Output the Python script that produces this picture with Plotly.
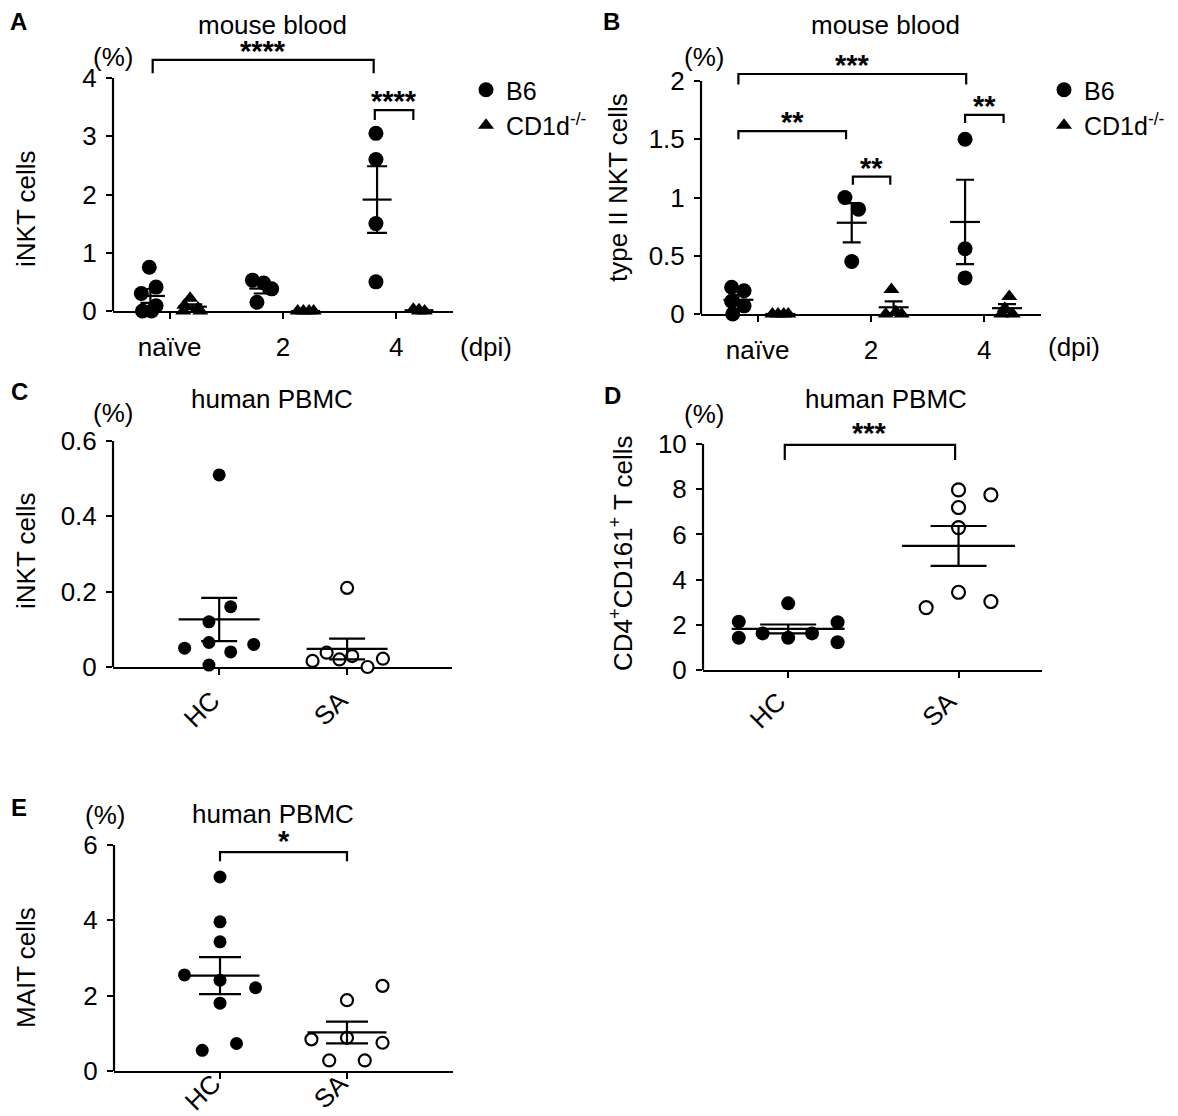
import numpy as np
import plotly.graph_objects as go

W, H = 1178, 1116
FONT = "Liberation Sans, Arial, Helvetica, sans-serif"
FS = 26

dpi_groups = [1, 2, 3]
dpi_labels = ["naïve", "2", "4"]
pbmc_groups = [0, 1]
pbmc_labels = ["HC", "SA"]

# A: iNKT cells (%) in mouse blood; *_dx = horizontal scatter of the dots
a_b6_naive = [0.75, 0.41, 0.30, 0.09, 0.0, 0.0]
a_b6_d2 = [0.53, 0.48, 0.38, 0.15]
a_b6_d4 = [3.05, 2.60, 1.50, 0.50]
a_ko_naive = [0.22, 0.10, 0.05, 0.0, 0.0]
a_ko_d2 = [0.0, 0.0, 0.0, 0.0]
a_ko_d4 = [0.03, 0.02, 0.0, 0.0]
a_b6_dx = [[-0.18, -0.12, -0.25, -0.12, -0.24, -0.16],
           [-0.27, -0.17, -0.10, -0.23],
           [-0.18, -0.18, -0.18, -0.18]]
a_ko_dx = [[0.18, 0.13, 0.25, 0.12, 0.27],
           [0.13, 0.18, 0.23, 0.27],
           [0.15, 0.20, 0.25, 0.20]]

# B: type II NKT cells (%) in mouse blood
b_b6_naive = [0.23, 0.20, 0.11, 0.07, 0.0]
b_b6_d2 = [1.00, 0.90, 0.45]
b_b6_d4 = [1.50, 0.56, 0.31]
b_ko_naive = [0.0, 0.0, 0.0, 0.0]
b_ko_d2 = [0.21, 0.02, 0.0, 0.0]
b_ko_d4 = [0.15, 0.05, 0.0, 0.0]
b_b6_dx = [[-0.23, -0.12, -0.23, -0.12, -0.22],
           [-0.23, -0.11, -0.17],
           [-0.17, -0.17, -0.17]]
b_ko_dx = [[0.13, 0.18, 0.23, 0.27],
           [0.18, 0.22, 0.13, 0.27],
           [0.22, 0.18, 0.15, 0.25]]

# C: iNKT cells (%) in human PBMC
c_hc = [0.51, 0.16, 0.12, 0.065, 0.06, 0.05, 0.04, 0.005]
c_sa = [0.21, 0.016, 0.038, 0.02, 0.029, 0.0, 0.022]
c_hc_dx = [0, 0.09, -0.08, -0.08, 0.27, -0.27, 0.09, -0.08]
c_sa_dx = [0, -0.27, -0.16, -0.06, 0.04, 0.16, 0.28]

# D: CD4+CD161+ T cells (%)
d_hc = [2.14, 1.43, 1.62, 2.95, 1.43, 1.62, 2.11, 1.23]
d_sa = [7.97, 7.75, 7.19, 6.30, 3.44, 3.03, 2.76]
d_hc_dx = [-0.29, -0.29, -0.15, 0, 0, 0.14, 0.29, 0.29]
d_sa_dx = [0, 0.19, 0, 0, 0, 0.19, -0.19]

# E: MAIT cells (%)
e_hc = [5.15, 3.96, 3.43, 2.55, 2.41, 2.21, 1.80, 0.73, 0.55]
e_sa = [2.26, 1.88, 0.88, 0.84, 0.75, 0.28, 0.28]
e_hc_dx = [0, 0, 0, -0.28, 0, 0.28, 0, 0.13, -0.14]
e_sa_dx = [0.28, 0, 0, -0.28, 0.28, -0.14, 0.14]

# significance brackets: (x left, x right, y, y of the drop ends, label)
a_sig = [(0.85, 2.80, 4.31, 4.08, "****"), (2.81, 3.15, 3.45, 3.28, "****")]
b_sig = [(0.83, 2.84, 2.06, 1.97, "***"), (0.83, 1.78, 1.57, 1.50, "**"),
         (1.84, 2.17, 1.18, 1.11, "**"), (2.83, 3.17, 1.71, 1.64, "**")]
d_sig = [(-0.02, 0.98, 9.96, 9.29, "***")]
e_sig = [(0.0, 1.0, 5.81, 5.57, "*")]


def px(x):
    return x / W


def py(y):
    return 1 - y / H


fig = go.Figure()
annotations = []
shapes = []


def dots(xa, ya, xs, ys, symbol, filled, size, name=None, legend=None):
    fig.add_trace(go.Scatter(
        x=xs, y=ys, xaxis=xa, yaxis=ya, mode="markers", name=name,
        showlegend=legend is not None, legend=legend or "legend",
        marker=dict(symbol=symbol, size=size,
                    color="black" if filled else "white",
                    line=dict(color="black", width=0 if filled else 2.2)),
        cliponaxis=False, hoverinfo="skip"))


def mean_sem(xa, ya, x, vals, bar_len, cap):
    v = np.array(vals, dtype=float)
    m = v.mean()
    se = v.std(ddof=1) / np.sqrt(len(v))
    fig.add_trace(go.Scatter(
        x=[x], y=[m], xaxis=xa, yaxis=ya, mode="markers", showlegend=False,
        marker=dict(symbol="line-ew", size=bar_len / 1.4,
                    line=dict(color="black", width=2.2)),
        error_y=dict(type="data", array=[se], width=cap, thickness=2.2,
                     color="black"),
        cliponaxis=False, hoverinfo="skip"))


def brackets(xa, ya, sigs, shift):
    for x0, x1, y, yd, label in sigs:
        fig.add_trace(go.Scatter(
            x=[x0, x0, x1, x1], y=[yd, y, y, yd], xaxis=xa, yaxis=ya,
            mode="lines", line=dict(color="black", width=2.2),
            showlegend=False, cliponaxis=False, hoverinfo="skip"))
        annotations.append(dict(
            x=(x0 + x1) / 2, y=y, xref=xa, yref=ya, text="<b>%s</b>" % label,
            showarrow=False, yanchor="middle", yshift=shift,
            font=dict(size=29, family=FONT, color="black")))


def strain(groups, vals, dxs):
    xs, ys = [], []
    for g, v, d in zip(groups, vals, dxs):
        xs += [g + o for o in d]
        ys += list(v)
    return xs, ys


# ---- panel A
xs, ys = strain(dpi_groups, [a_b6_naive, a_b6_d2, a_b6_d4], a_b6_dx)
dots("x", "y", xs, ys, "circle", True, 15, "B6", "legend")
xs, ys = strain(dpi_groups, [a_ko_naive, a_ko_d2, a_ko_d4], a_ko_dx)
dots("x", "y", xs, ys, "triangle-up", True, 14, "CD1d<sup>-/-</sup>", "legend")
for g, v in zip(dpi_groups, [a_b6_naive, a_b6_d2, a_b6_d4]):
    mean_sem("x", "y", g - 0.17, v, 29, 10)
for g, v in zip(dpi_groups, [a_ko_naive, a_ko_d2, a_ko_d4]):
    mean_sem("x", "y", g + 0.2, v, 29, 10)
brackets("x", "y", a_sig, 9)

# ---- panel B
xs, ys = strain(dpi_groups, [b_b6_naive, b_b6_d2, b_b6_d4], b_b6_dx)
dots("x2", "y2", xs, ys, "circle", True, 15, "B6", "legend2")
xs, ys = strain(dpi_groups, [b_ko_naive, b_ko_d2, b_ko_d4], b_ko_dx)
dots("x2", "y2", xs, ys, "triangle-up", True, 14, "CD1d<sup>-/-</sup>", "legend2")
for g, v in zip(dpi_groups, [b_b6_naive, b_b6_d2, b_b6_d4]):
    mean_sem("x2", "y2", g - 0.17, v, 30, 9)
for g, v in zip(dpi_groups, [b_ko_naive, b_ko_d2, b_ko_d4]):
    mean_sem("x2", "y2", g + 0.2, v, 30, 9)
brackets("x2", "y2", b_sig, 9)

# ---- panels C, D, E
for xa, ya, hc, sa, hdx, sdx, size, blen, cap in [
        ("x3", "y3", c_hc, c_sa, c_hc_dx, c_sa_dx, 13, 81, 18),
        ("x4", "y4", d_hc, d_sa, d_hc_dx, d_sa_dx, 14, 113, 28),
        ("x5", "y5", e_hc, e_sa, e_hc_dx, e_sa_dx, 13, 79, 21)]:
    dots(xa, ya, [pbmc_groups[0] + d for d in hdx], hc, "circle", True, size)
    dots(xa, ya, [pbmc_groups[1] + d for d in sdx], sa, "circle", False, size - 1)
    mean_sem(xa, ya, pbmc_groups[0], hc, blen, cap)
    mean_sem(xa, ya, pbmc_groups[1], sa, blen, cap)
brackets("x4", "y4", d_sig, 12)
brackets("x5", "y5", e_sig, 11)


def axis_style(**kw):
    base = dict(showline=True, linecolor="black", linewidth=2.2,
                ticks="outside", ticklen=6, tickwidth=2.2, tickcolor="black",
                showgrid=False, zeroline=False, layer="below traces",
                fixedrange=True,
                tickfont=dict(size=FS, family=FONT, color="black"))
    base.update(kw)
    return base


# panel frames in pixels: x left, x right, pixel row of y=0, pixel row of top tick
frames = {
    "A": (105, 445, 303, 70),
    "B": (693, 1033, 306, 73),
    "C": (105, 444, 659, 433),
    "D": (695, 1034, 662, 436),
    "E": (106, 445, 1063, 837),
}

layout_axes = {}
panels = [
    # key, x range, x ticks, top tick, room above it, y ticks, tick text,
    # tick angle, label standoff, label shift
    ("A", [0.5, 3.5], dpi_groups, 4, 4.6, [0, 1, 2, 3, 4],
     ["0", "1", "2", "3", "4"], 0, 6, 0),
    ("B", [0.5, 3.5], dpi_groups, 2, 2.3, [0, 0.5, 1, 1.5, 2],
     ["0", "0.5", "1", "1.5", "2"], 0, 6, 0),
    ("C", [-0.83, 1.82], pbmc_groups, 0.6, 0.6, [0, 0.2, 0.4, 0.6],
     ["0", "0.2", "0.4", "0.6"], -45, 0, -7),
    ("D", [-0.5, 1.49], pbmc_groups, 10, 11, [0, 2, 4, 6, 8, 10],
     ["0", "2", "4", "6", "8", "10"], -45, -2, -10),
    ("E", [-0.835, 1.835], pbmc_groups, 6, 6.3, [0, 2, 4, 6],
     ["0", "2", "4", "6"], -45, -21, -7),
]
for i, (key, xr, xt, ytop, ymax, yt, ytxt, angle, standoff, shift) in enumerate(panels):
    n = "" if i == 0 else str(i + 1)
    x0, x1, y0px, ytpx = frames[key]
    top_px = y0px - (y0px - ytpx) * ymax / ytop
    labels = dpi_labels if key in ("A", "B") else pbmc_labels
    layout_axes["xaxis" + n] = axis_style(
        domain=[px(x0), px(x1)], range=xr, tickvals=xt, ticktext=labels,
        tickangle=angle, ticklabelstandoff=standoff, ticklabelshift=shift,
        anchor="y" + n)
    layout_axes["yaxis" + n] = axis_style(
        domain=[py(y0px), py(top_px)], range=[0, ymax], tickvals=yt,
        ticktext=ytxt, showline=False, ticklabelstandoff=4, anchor="x" + n)
    # the y axis line stops at the top tick, brackets sit above it
    shapes.append(dict(type="line", xref="x%s domain" % n, yref="y" + n,
                       x0=0, x1=0, y0=0, y1=ytop, layer="below",
                       line=dict(color="black", width=2.2)))


def note(text, x, y, size=FS, angle=0, xanchor="center"):
    annotations.append(dict(
        text=text, x=px(x), y=py(y), xref="paper", yref="paper",
        showarrow=False, xanchor=xanchor, yanchor="middle", textangle=angle,
        font=dict(size=size, family=FONT, color="black")))


# panel letters
for letter, x, y in [("A", 0, 14), ("B", 593, 14), ("C", 1, 383),
                     ("D", 594, 387), ("E", 1, 799)]:
    note("<b>%s</b>" % letter, x, y, size=24, xanchor="left")

# titles and units
note("mouse blood", 264, 17)
note("mouse blood", 877, 17)
note("human PBMC", 264, 391)
note("human PBMC", 878, 391)
note("human PBMC", 265, 806)
for x, y in [(105, 49), (696, 49), (105, 405), (696, 406), (97, 807)]:
    note("(%)", x, y)
note("(dpi)", 478, 339)
note("(dpi)", 1066, 339)

# y-axis titles
note("iNKT cells", 18, 201, angle=-90)
note("type II NKT cells", 610, 180, angle=-90)
note("iNKT cells", 18, 543, angle=-90)
note("CD4<sup>+</sup>CD161<sup>+</sup> T cells", 613, 545, angle=-90)
note("MAIT cells", 18, 960, angle=-90)

legend_style = dict(xanchor="left", yanchor="top", bgcolor="rgba(0,0,0,0)",
                    font=dict(size=25, family=FONT, color="black"),
                    tracegroupgap=0, itemclick=False, itemdoubleclick=False)

fig.update_layout(
    width=W, height=H,
    margin=dict(l=0, r=0, t=0, b=0, autoexpand=False),
    paper_bgcolor="white", plot_bgcolor="white",
    font=dict(family=FONT, size=FS, color="black"),
    showlegend=True,
    legend=dict(x=px(458), y=py(59), **legend_style),
    legend2=dict(x=px(1036), y=py(59), **legend_style),
    annotations=annotations,
    shapes=shapes,
    **layout_axes,
)

fig.write_html("out.html")
